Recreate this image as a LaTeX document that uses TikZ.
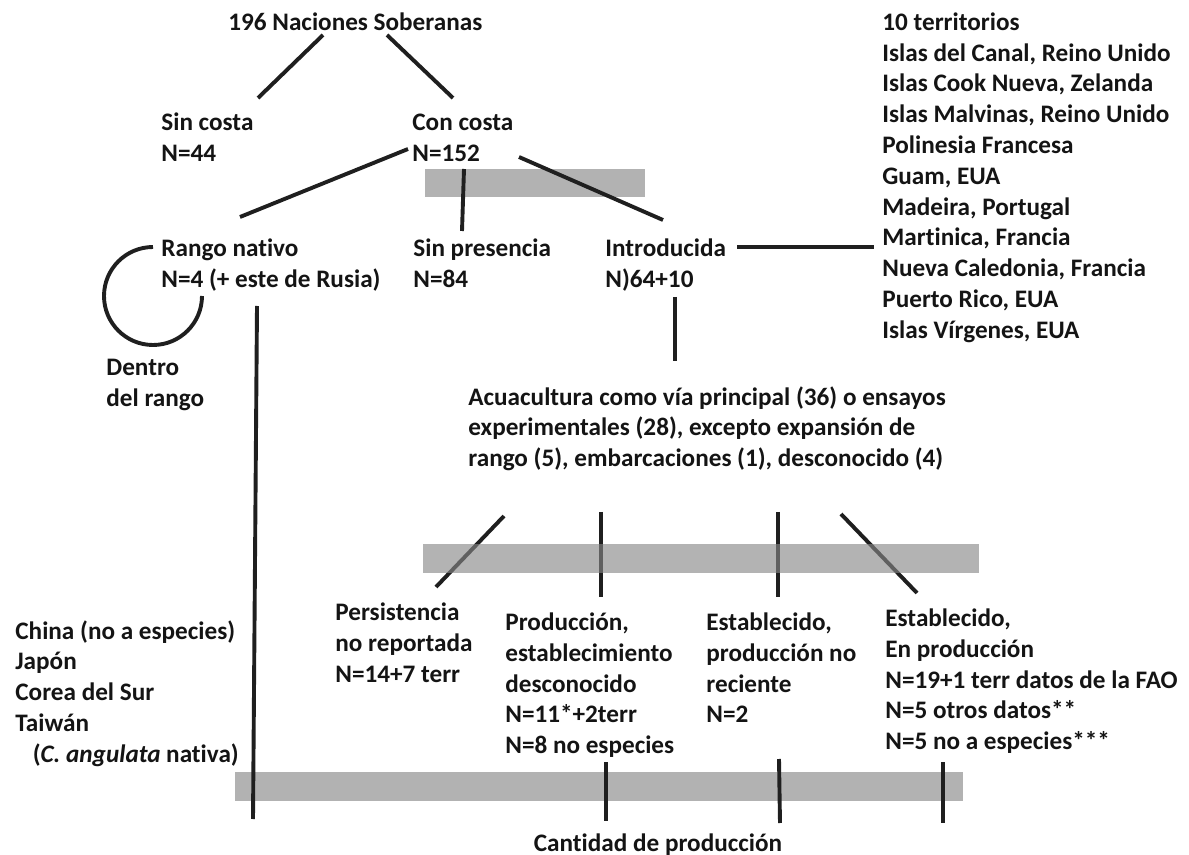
\documentclass[tikz,border=0pt]{standalone}
\usepackage{fontspec}
\setmainfont{Carlito}[Ligatures=NoCommon]
\newcommand\firststrut{\rule{0pt}{9pt}}
\begin{document}
\begin{tikzpicture}[x=0.5pt,y=-0.5pt,
  txt/.style={anchor=north west, inner sep=0pt, align=left, text=black!92,
    font=\bfseries\fontsize{12.6}{15.4}\selectfont},
  conn/.style={line width=1.95pt, draw=black!88, line cap=butt},
  bar/.style={fill=black!30, draw=none},
  topbar/.style={fill=black!47, draw=none, opacity=0.63}]
\useasboundingbox (0,0) rectangle (1189,855);

% grey bands (under the connectors)
\fill[bar] (425,169) rectangle (645,197);
\fill[bar] (235,772) rectangle (963,801);

% texts
\node[txt] (title) at (228,12) {\firststrut 196 Naciones Soberanas};
\node[txt] (sin) at (161,112) {\firststrut Sin costa\\N=44};
\node[txt] (con) at (412,112) {\firststrut Con costa\\N=152};
\node[txt] (rango) at (161,238) {\firststrut Rango nativo\\N=4 (+ este de Rusia)};
\node[txt] (sinpres) at (413,238) {\firststrut Sin presencia\\N=84};
\node[txt] (intro) at (605,238) {\firststrut Introducida\\N)64+10};
\node[txt] (terr) at (882,12) {\firststrut 10 territorios\\Islas del Canal, Reino Unido\\Islas Cook Nueva, Zelanda\\Islas Malvinas, Reino Unido\\Polinesia Francesa\\Guam, EUA\\Madeira, Portugal\\Martinica, Francia\\Nueva Caledonia, Francia\\Puerto Rico, EUA\\Islas Vírgenes, EUA};
\node[txt] (dentro) at (106,357) {\firststrut Dentro\\del rango};
\node[txt] (acua) at (468,386) {\firststrut Acuacultura como vía principal (36) o ensayos\\experimentales (28), excepto expansión de\\rango (5), embarcaciones (1), desconocido (4)};
\node[txt] (persist) at (335,602) {\firststrut Persistencia\\no reportada\\N=14+7 terr};
\node[txt] (prod) at (505,612) {\firststrut Producción,\\establecimiento\\desconocido\\N=11*+2terr\\N=8 no especies};
\node[txt] (estab1) at (706,612) {\firststrut Establecido,\\producción no\\reciente\\N=2};
\node[txt] (estab2) at (885,608) {\firststrut Establecido,\\En producción\\N=19+1 terr datos de la FAO\\N=5 otros datos**\\N=5 no a especies***};
\node[txt] (china) at (15,620) {\firststrut China (no a especies)\\Japón\\Corea del Sur\\Taiwán\\\hspace*{8.7pt}(\textit{C. angulata} nativa)};
\node[txt, anchor=north] (cant) at (658,833) {\firststrut Cantidad de producción};

% connector end points
\coordinate (ta) at (323,35);  \coordinate (sa) at (258,98);
\coordinate (tb) at (387,35);  \coordinate (ca) at (453,98);
\coordinate (cb) at (408,149); \coordinate (ra) at (240,217);
\coordinate (cc) at (464,169); \coordinate (pa) at (462,231);
\coordinate (cd) at (519,157); \coordinate (ia) at (663,220);
\coordinate (ib) at (737,247); \coordinate (ea) at (874,247);
\coordinate (ic) at (675,297); \coordinate (aa) at (675,361);
\coordinate (rb) at (257,306); \coordinate (rc) at (253,819);
\coordinate (arcstart) at (153,247);
\coordinate (ab) at (504,516); \coordinate (qa) at (436,587);
\coordinate (ac) at (601,512); \coordinate (qb) at (601,597);
\coordinate (ad) at (778,512); \coordinate (qc) at (778,597);
\coordinate (ae) at (841,514); \coordinate (qd) at (917,593);
\coordinate (ba) at (606,762); \coordinate (bb) at (606,821);
\coordinate (bc) at (779,759); \coordinate (bd) at (780,823);
\coordinate (be) at (943,762); \coordinate (bf) at (943,823);

% connectors
\draw[conn] (ta) -- (sa);
\draw[conn] (tb) -- (ca);
\draw[conn] (cb) -- (ra);
\draw[conn] (cc) -- (pa);
\draw[conn] (cd) -- (ia);
\draw[conn] (ib) -- (ea);
\draw[conn] (ic) -- (aa);
\draw[conn] (rb) -- (rc);
\draw[conn] (arcstart) arc[start angle=90, end angle=360, radius=24.5pt];
\draw[conn] (ab) -- (qa);
\draw[conn] (ac) -- (qb);
\draw[conn] (ad) -- (qc);
\draw[conn] (ae) -- (qd);
\draw[conn] (ba) -- (bb);
\draw[conn] (bc) -- (bd);
\draw[conn] (be) -- (bf);

% grey band drawn over the four branches
\fill[topbar] (423,544) rectangle (979,573);
\end{tikzpicture}
\end{document}
